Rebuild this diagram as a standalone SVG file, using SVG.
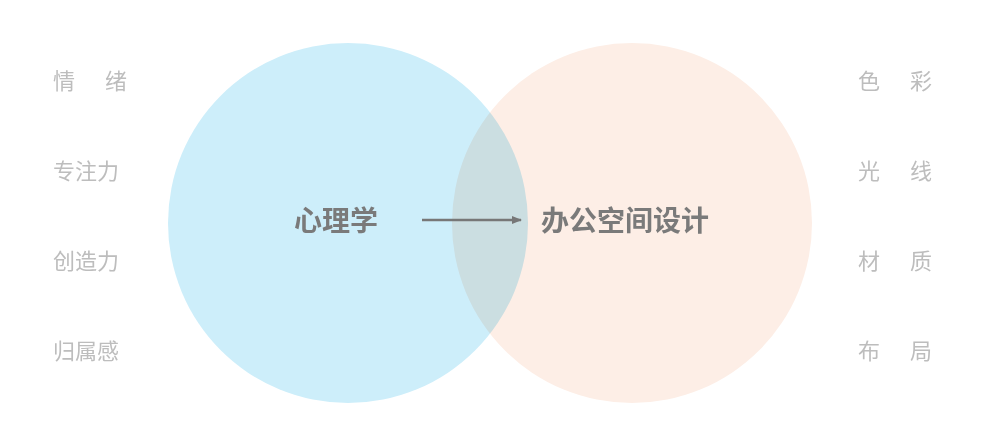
<svg xmlns="http://www.w3.org/2000/svg" width="997" height="439" viewBox="0 0 997 439">
<style>
.s{font-family:"Noto Sans CJK SC",sans-serif;font-size:22px;fill:#bdbdbd}
.m{font-family:"Noto Sans CJK SC",sans-serif;font-size:28px;font-weight:bold;fill:#7a7a7a}
</style>
<defs><marker id="a" markerWidth="10" markerHeight="10" refX="9" refY="5" orient="auto" markerUnits="userSpaceOnUse"><path d="M0,1 L10,5 L0,9 Z" fill="#777"/></marker></defs>
<rect width="997" height="439" fill="#fff"/>
<g id="left"><circle cx="348" cy="223" r="180" fill="#cdeefa"/></g>
<g id="right"><circle cx="632" cy="223" r="180" fill="#fdeee6" style="mix-blend-mode:multiply"/></g>
<g id="labels-left">
<text class="s" x="53" y="89">情</text><text class="s" x="105" y="89">绪</text>
<text class="s" x="53" y="179">专注力</text>
<text class="s" x="53" y="269">创造力</text>
<text class="s" x="53" y="359">归属感</text>
</g>
<g id="labels-right">
<text class="s" x="858" y="89">色</text><text class="s" x="910" y="89">彩</text>
<text class="s" x="858" y="179">光</text><text class="s" x="910" y="179">线</text>
<text class="s" x="858" y="269">材</text><text class="s" x="910" y="269">质</text>
<text class="s" x="858" y="359">布</text><text class="s" x="910" y="359">局</text>
</g>
<g id="n1"><text class="m" x="294" y="231">心理学</text></g>
<g id="n2"><text class="m" x="541" y="231">办公空间设计</text></g>
<g id="connectors"><line x1="422" y1="220" x2="521" y2="220" stroke="#777" stroke-width="2.5" marker-end="url(#a)"/></g>
</svg>
